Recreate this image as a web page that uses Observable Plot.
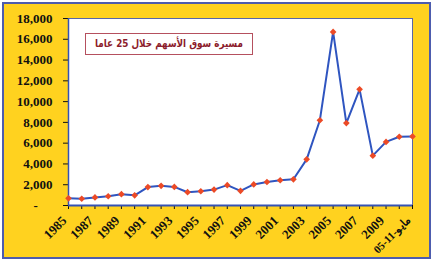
<!DOCTYPE html>
<html>
<head>
<meta charset="utf-8">
<script src="https://cdn.jsdelivr.net/npm/d3@7"></script>
<script src="https://cdn.jsdelivr.net/npm/@observablehq/plot@0.6"></script>
<style>
  html, body { margin: 0; padding: 0; background: #ffffff; }
  #wrap { position: relative; width: 435px; height: 265px; overflow: hidden; }
  #panel { position: absolute; left: 2px; top: 2px; width: 429px; height: 257px; box-sizing: border-box;
           border: 2px solid #4d5cae; background: #ffd21f; }
  #chart { position: absolute; left: 0; top: 0; }
  #title { position: absolute; left: 85px; top: 33px; width: 168px; height: 22px; box-sizing: border-box;
           border: 1px solid #b5505e; background: #ffffff; color: #8c1c2c; white-space: nowrap;
           font: bold 11px "DejaVu Sans", sans-serif; line-height: 19px; }
  #title span { position: absolute; left: 50%; top: 0; direction: rtl;
                transform: translateX(-50%) scaleX(0.8); }
</style>
</head>
<body>
<div id="wrap">
  <div id="panel"></div>
  <div id="chart"></div>
  <div id="title"><span>مسيرة سوق الأسهم خلال 25 عاما</span></div>
</div>
<script>
const categories = ["1985","1986","1987","1988","1989","1990","1991","1992","1993","1994","1995","1996","1997","1998","1999","2000","2001","2002","2003","2004","2005","2006","2007","2008","2009","2010","05-11-مايو"];
const values = [690, 650, 780, 890, 1090, 980, 1770, 1890, 1790, 1280, 1370, 1530, 1960, 1410, 2030, 2260, 2430, 2520, 4440, 8210, 16710, 7930, 11180, 4800, 6120, 6620, 6650];
const xLabels = ["1985","1987","1989","1991","1993","1995","1997","1999","2001","2003","2005","2007","2009","05-11-مايو"];
const yTicks = [0, 2000, 4000, 6000, 8000, 10000, 12000, 14000, 16000, 18000];

const data = categories.map((c, i) => ({cat: c, value: values[i]}));
const fmt = d3.format(",");
const lastCat = categories[categories.length - 1];

const chart = Plot.plot({
  width: 435,
  height: 265,
  marginLeft: 68,
  marginRight: 23,
  marginTop: 18,
  marginBottom: 60,
  style: {background: "transparent", fontFamily: "'Liberation Serif', serif", fontSize: "13px", fontWeight: "bold", color: "#111"},
  x: {type: "point", domain: categories, padding: 0, round: false},
  y: {domain: [0, 18000]},
  marks: [
    Plot.frame({fill: "white", stroke: "#5866a8", strokeWidth: 1}),
    Plot.axisY({ticks: yTicks, tickFormat: d => d === 0 ? "" : fmt(d), tickSize: 5, tickPadding: 11, label: null}),
    Plot.text([0], {y: d => d, text: () => "-", frameAnchor: "left", dx: -35, fontSize: 13, fontWeight: "bold"}),
    Plot.axisX({ticks: categories, tickFormat: () => "", tickSize: 4, label: null}),
    Plot.axisX({ticks: xLabels.filter(d => d !== lastCat), tickSize: 0, tickRotate: -45, tickPadding: 13, dx: -4, label: null}),
    Plot.axisX({ticks: [lastCat], tickSize: 0, tickRotate: -45, tickPadding: 13, dx: -4, fontSize: 11, label: null}),
    Plot.ruleY([0], {stroke: "#3452b4", strokeWidth: 2}),
    Plot.ruleX([categories[0]], {stroke: "#3452b4", strokeWidth: 1.5}),
    Plot.line(data, {x: "cat", y: "value", stroke: "#2f55c0", strokeWidth: 2}),
    Plot.dot(data, {x: "cat", y: "value", symbol: "diamond2", r: 3, fill: "#ec4a26", stroke: "none"})
  ]
});
document.getElementById("chart").appendChild(chart);
</script>
</body>
</html>
